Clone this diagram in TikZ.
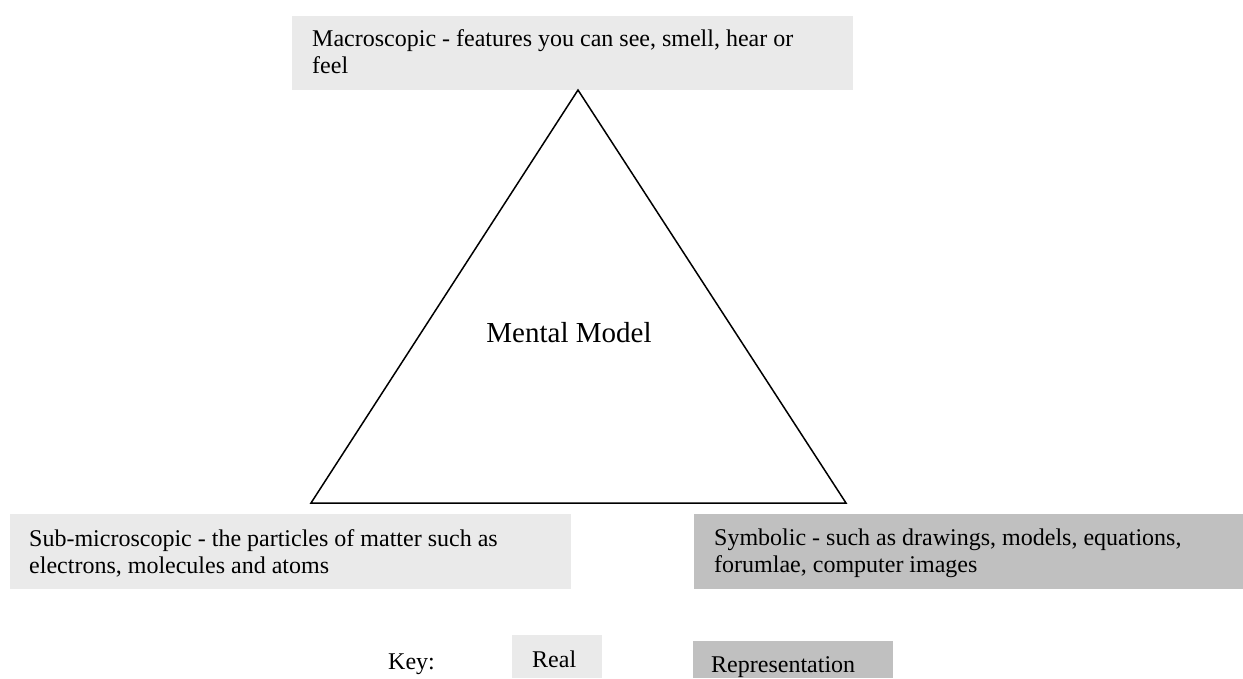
\documentclass[tikz,border=0pt]{standalone}
\usepackage{fontspec}
\setmainfont{Liberation Serif}
\definecolor{realgray}{HTML}{EAEAEA}
\definecolor{reprgray}{HTML}{C0C0C0}
\tikzset{
  realbox/.style={fill=realgray, inner sep=0pt, anchor=north west},
  reprbox/.style={fill=reprgray, inner sep=0pt, anchor=north west},
  boxtext/.style={anchor=north west, inner sep=0pt, align=left, font=\fontsize{24}{27}\selectfont},
}

\begin{document}
\begin{tikzpicture}[x=1pt,y=-1pt]
  \useasboundingbox (0,0) rectangle (1243,678);
  % shaded boxes
  \node[realbox, minimum width=561pt, minimum height=74pt] (macro) at (292,16) {};
  \node[realbox, minimum width=561pt, minimum height=75pt] (submicro) at (10,514) {};
  \node[reprbox, minimum width=549pt, minimum height=75pt] (symbolic) at (694,514) {};
  \node[realbox, minimum width=90pt, minimum height=43pt] (real) at (512,635) {};
  \node[reprbox, minimum width=200pt, minimum height=37pt] (repr) at (693,641) {};
  % box texts
  \node[boxtext] (macrotext) at ([shift={(20,13)}]macro.north west)
    {Macroscopic - features you can see, smell, hear or\\feel};
  \node[boxtext] (submicrotext) at ([shift={(19,15)}]submicro.north west)
    {Sub-microscopic - the particles of matter such as\\electrons, molecules and atoms};
  \node[boxtext] (symbolictext) at ([shift={(20,15)}]symbolic.north west)
    {Symbolic - such as drawings, models, equations,\\forumlae, computer images};
  % triangle
  \coordinate (apex) at (578,90);
  \coordinate (left) at (311,503);
  \coordinate (right) at (846,503);
  \draw[line width=1.5pt, line join=miter] (apex) -- (left) -- (right) -- cycle;
  \node[inner sep=0pt, font=\fontsize{29}{33}\selectfont] (mental) at (569,333) {Mental Model};
  % key
  \node[boxtext, anchor=base west] (key) at (388,669) {Key:};
  \node[boxtext, anchor=base west] (realtext) at ([shift={(20,32)}]real.north west) {Real};
  \node[boxtext, anchor=base west] (reprtext) at ([shift={(18,31)}]repr.north west) {Representation};
\end{tikzpicture}
\end{document}
